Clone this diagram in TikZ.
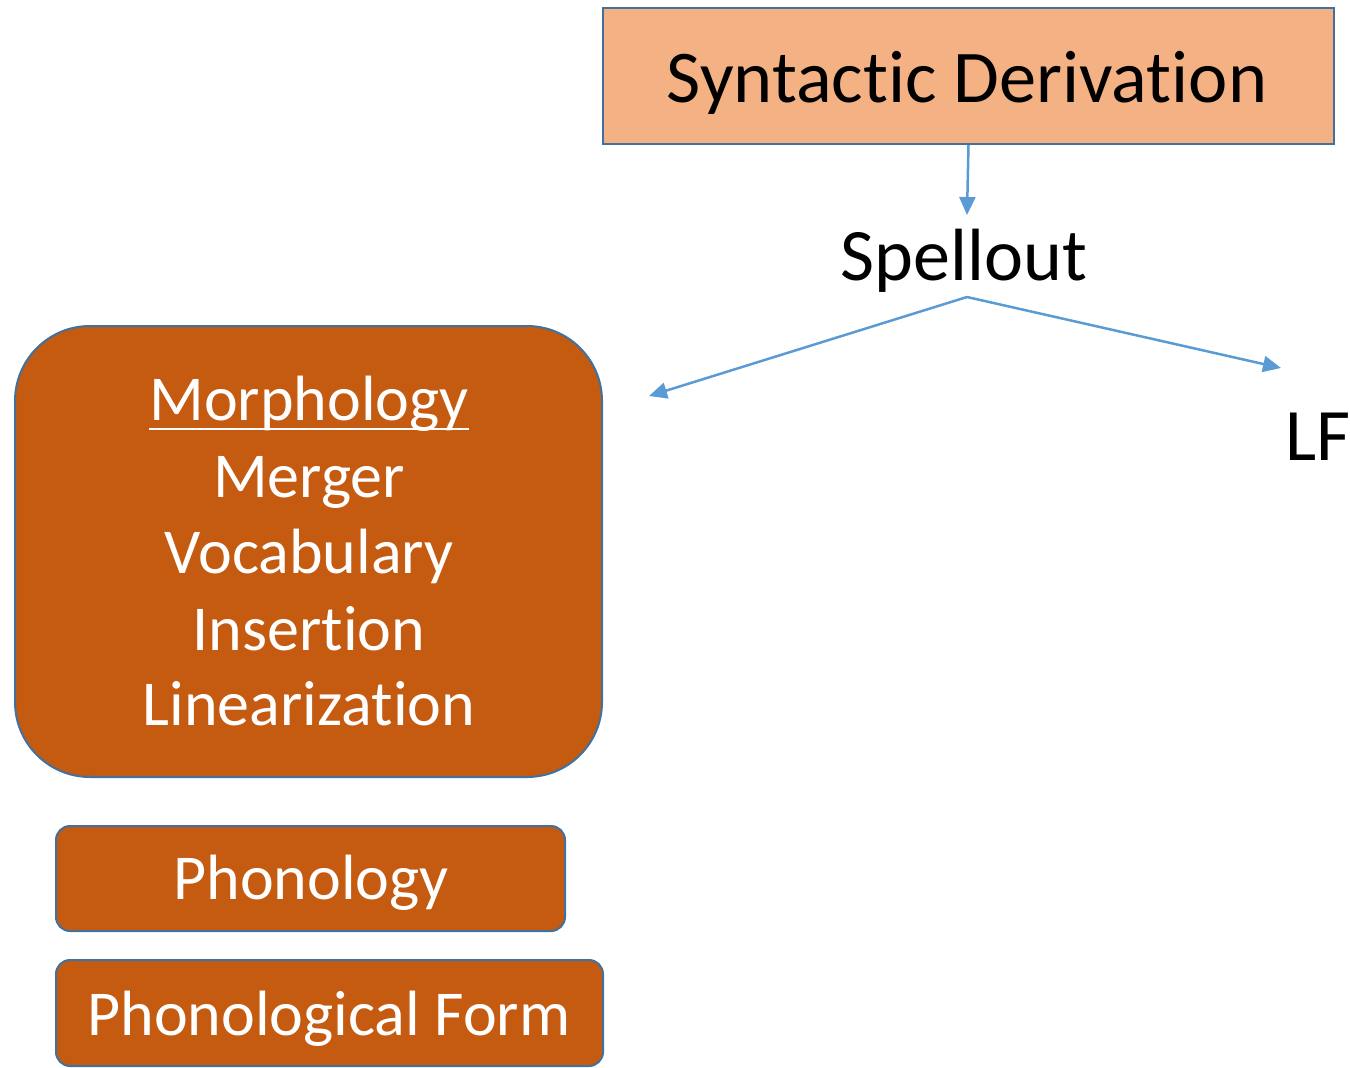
\documentclass[tikz,border=0pt]{standalone}
\usepackage{fontspec}
\setmainfont{Carlito}[Ligatures={NoCommon}]
\usetikzlibrary{arrows.meta}
\definecolor{lightor}{HTML}{F4B183}
\definecolor{darkor}{HTML}{C55A11}
\definecolor{edgeblue}{HTML}{41719C}
\definecolor{arrblue}{HTML}{5B9BD5}
\tikzset{
  big/.style={font=\fontsize{74.4}{84}\selectfont},
  mid/.style={font=\fontsize{74}{84}\selectfont},
  wtxt/.style={font=\fontsize{64}{72}\selectfont, text=white, anchor=base, inner sep=0},
  btxt/.style={text=black, anchor=base, inner sep=0},
  orbox/.style={draw=edgeblue, line width=2pt, fill=darkor},
  conn/.style={draw=arrblue, line width=2.5pt, -{Triangle[length=18pt,width=16pt]}}
}
\begin{document}
\begin{tikzpicture}[x=1pt,y=-1pt]
\useasboundingbox (0,0) rectangle (1350,1068);
% Syntactic derivation box
\node[draw=edgeblue, line width=2pt, fill=lightor, minimum width=731pt, minimum height=136pt, inner sep=0, anchor=north west] (synt) at (602,7) {};
\node[btxt, big] (synttxt) at (967,102) {Syntactic Derivation};
% Spellout
\node[btxt, mid] (spell) at (964,280) {Spellout};
\coordinate (split) at (967,297);
\coordinate (pfend) at (649,396);
\coordinate (lfend) at (1281,368);
\node[btxt, mid, anchor=base west] (lf) at (1285,460) {LF};
% arrows
\draw[conn] (synt.south) -- (967,215);
\draw[conn] (split) -- (pfend);
\draw[conn] (split) -- (lfend);
% Morphology box
\draw[orbox, rounded corners=75pt] (15,326) rectangle (602,777);
\node[wtxt] (morph) at (309,420) {Morphology};
\draw[white, line width=2.5pt] ([yshift=-9pt]morph.base west) -- ([yshift=-9pt]morph.base east);
\node[wtxt] (merger) at (309,497) {Merger};
\node[wtxt] (vocab) at (309,573) {Vocabulary};
\node[wtxt] (insert) at (309,650) {Insertion};
\node[wtxt] (linear) at (309,725) {Linearization};
% Phonology
\draw[orbox, rounded corners=14pt] (56,826) rectangle (565,931);
\node[wtxt] (phon) at (311,899) {Phonology};
% Phonological Form
\draw[orbox, rounded corners=14pt] (56,960) rectangle (603,1066);
\node[wtxt] (pf) at (329,1035) {Phonological Form};
\end{tikzpicture}
\end{document}
